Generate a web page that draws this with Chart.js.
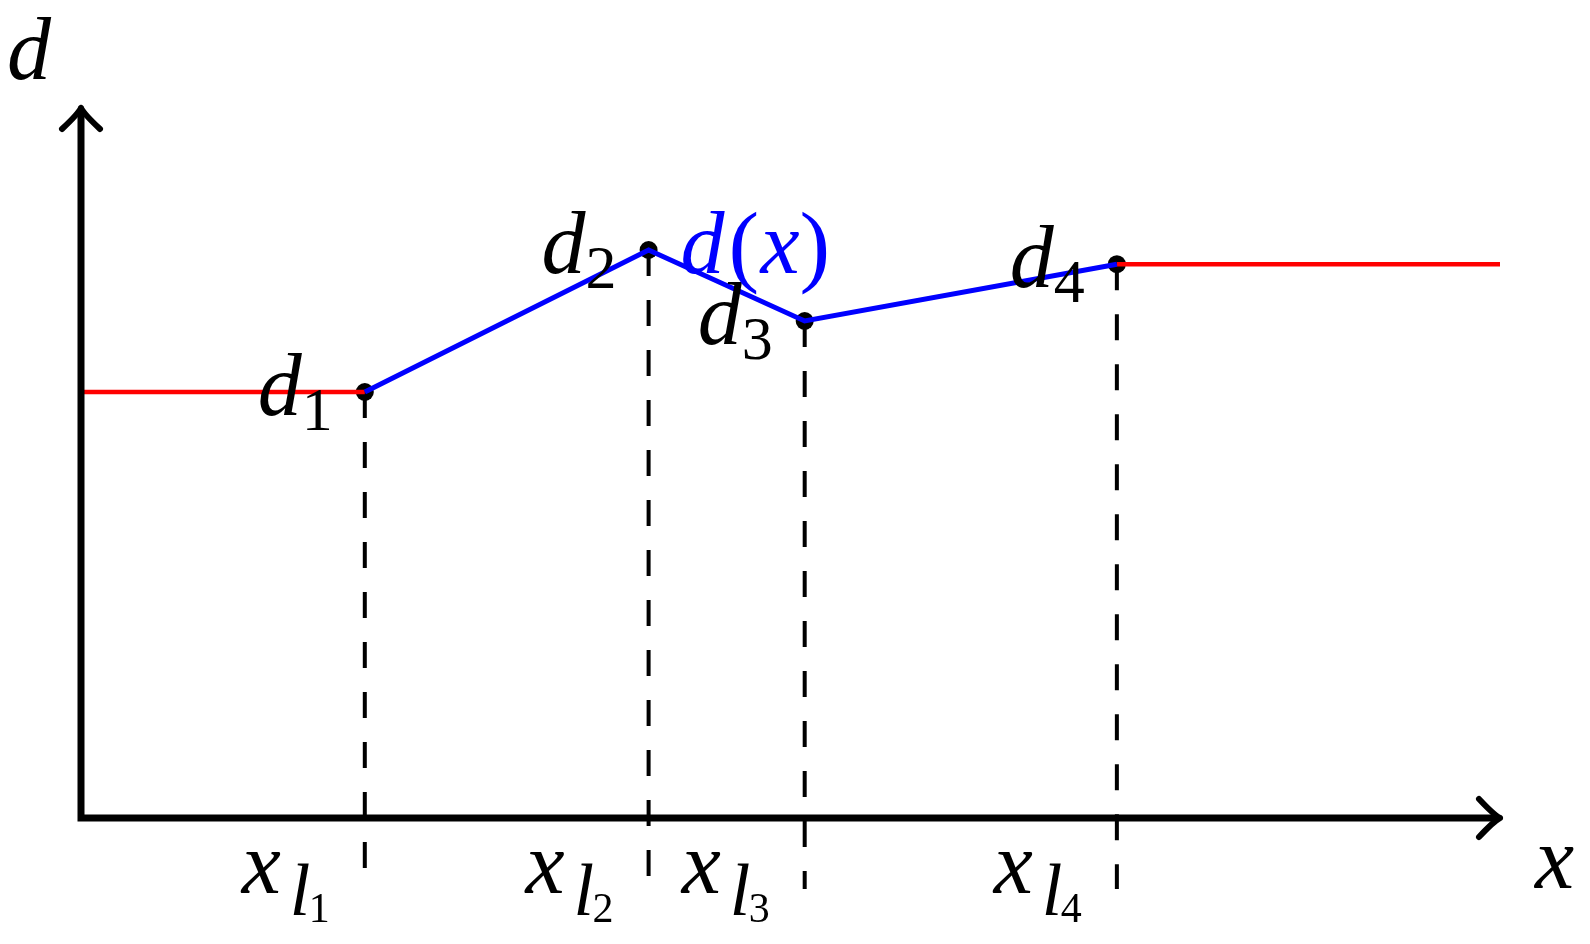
<!DOCTYPE html>
<html>
<head>
<meta charset="utf-8">
<script src="https://cdn.jsdelivr.net/npm/chart.js@4.4.1/dist/chart.umd.min.js"></script>
<style>
  html, body { margin: 0; padding: 0; background: #ffffff; }
  canvas { display: block; }
</style>
</head>
<body>
<canvas id="dxChart" width="1590" height="944"></canvas>
<script>
// knots of the piecewise linear d(x)
const knotX = [2.0, 4.0, 5.1, 7.3];
const knotD = [3.0, 4.0, 3.5, 3.9];
const knotSub = ["1", "2", "3", "4"];
const xMax = 10;
const yMax = 5;
const dropTo = -0.5; // dashed drop lines end here, below the x axis

const serif = "'Liberation Serif', 'Times New Roman', serif";

// draws one math-ish label: parts = [text, italic, size, dx, dy]
function drawMath(ctx, parts, left, base, color) {
  ctx.fillStyle = color;
  ctx.textBaseline = "alphabetic";
  ctx.textAlign = "left";
  parts.forEach(([t, italic, size, dx, dy]) => {
    ctx.font = (italic ? "italic " : "") + size + "px " + serif;
    ctx.fillText(t, left + dx, base + dy);
  });
}

function arrowHead(ctx, tx, ty, dirX, dirY) {
  // curved "->" head like latex, tip at (tx, ty), pointing along (dirX, dirY)
  const back = 21, side = 19;
  const px = -dirY, py = dirX;
  ctx.beginPath();
  [1, -1].forEach(s => {
    const ax = tx - dirX * back + px * side * s;
    const ay = ty - dirY * back + py * side * s;
    const cx = tx - dirX * 6 + px * 3 * s;
    const cy = ty - dirY * 6 + py * 3 * s;
    ctx.moveTo(ax, ay);
    ctx.quadraticCurveTo(cx, cy, tx, ty);
  });
  ctx.stroke();
}

const sketchPlugin = {
  id: "sketch",
  afterDatasetsDraw(chart) {
    const ctx = chart.ctx;
    const xs = chart.scales.x, ys = chart.scales.y;
    const x0 = xs.getPixelForValue(0), y0 = ys.getPixelForValue(0);
    const xEnd = xs.getPixelForValue(xMax), yEnd = ys.getPixelForValue(yMax);
    ctx.save();
    // axes
    ctx.strokeStyle = "#000000";
    ctx.lineWidth = 7;
    ctx.lineJoin = "miter";
    ctx.lineCap = "butt";
    ctx.beginPath();
    ctx.moveTo(x0, yEnd + 3);
    ctx.lineTo(x0, y0);
    ctx.lineTo(xEnd - 3, y0);
    ctx.stroke();
    ctx.lineWidth = 6;
    ctx.lineCap = "round";
    arrowHead(ctx, x0, yEnd, 0, -1);
    arrowHead(ctx, xEnd, y0, 1, 0);

    // axis names
    drawMath(ctx, [["d", true, 88, 0, 0]], x0 - 74, yEnd - 29, "#000000");
    drawMath(ctx, [["x", true, 88, 0, 0]], xEnd + 35, y0 + 70, "#000000");

    knotX.forEach((kx, i) => {
      const px = xs.getPixelForValue(kx);
      const py = ys.getPixelForValue(knotD[i]);
      drawMath(ctx, [["d", true, 88, 0, 0], [knotSub[i], false, 62, 44, 15]],
        px - 107, py + 23, "#000000");
      drawMath(ctx, [["x", true, 88, 0, 0], ["l", true, 74, 48, 22], [knotSub[i], false, 42, 67, 29]],
        px - 123, y0 + 75, "#000000");
    });

    // d(x) name next to the second knot
    const lx = xs.getPixelForValue(knotX[1]), ly = ys.getPixelForValue(knotD[1]);
    drawMath(ctx, [["d", true, 88, 0, 0], ["(", false, 92, 48, 2], ["x", true, 88, 80, 0], [")", false, 92, 119, 2]],
      lx + 32, ly + 23, "#0000ff");
    ctx.restore();
  }
};

const knots = knotX.map((x, i) => ({ x: x, y: knotD[i] }));

const datasets = [
  {
    label: "d(x)",
    data: knots,
    borderColor: "#0000ff",
    borderWidth: 5,
    pointRadius: 0,
    order: 1,
  },
  {
    label: "left",
    data: [{ x: 0, y: knotD[0] }, { x: knotX[0], y: knotD[0] }],
    borderColor: "#ff0000",
    borderWidth: 4.5,
    pointRadius: 0,
    order: 1,
  },
  {
    label: "right",
    data: [{ x: knotX[3], y: knotD[3] }, { x: xMax, y: knotD[3] }],
    borderColor: "#ff0000",
    borderWidth: 4.5,
    pointRadius: 0,
    order: 1,
  },
  {
    label: "knots",
    data: knots,
    showLine: false,
    pointRadius: 9,
    pointBorderWidth: 0,
    pointBackgroundColor: "#000000",
    order: 2,
  },
  ...knotX.map((x, i) => ({
    label: "drop" + knotSub[i],
    data: [{ x: x, y: knotD[i] }, { x: x, y: dropTo }],
    borderColor: "#000000",
    borderWidth: 4,
    borderDash: [26, 24],
    pointRadius: 0,
    order: 3,
  })),
];

function draw() {
  new Chart(document.getElementById("dxChart"), {
    type: "line",
    data: { datasets: datasets },
    options: {
      responsive: false,
      maintainAspectRatio: false,
      devicePixelRatio: 1,
      animation: false,
      events: [],
      datasets: { line: { clip: false, tension: 0 } },
      layout: {
        padding: { left: 81, right: 90, top: 108, bottom: 126 }
      },
      scales: {
        x: { type: "linear", min: 0, max: xMax, display: false },
        y: { type: "linear", min: 0, max: yMax, display: false },
      },
      plugins: {
        legend: { display: false },
        tooltip: { enabled: false },
      },
    },
    plugins: [sketchPlugin],
  });
}

Promise.all([
  document.fonts.load("italic 88px 'Liberation Serif'"),
  document.fonts.load("88px 'Liberation Serif'"),
]).then(draw, draw);
</script>
</body>
</html>
